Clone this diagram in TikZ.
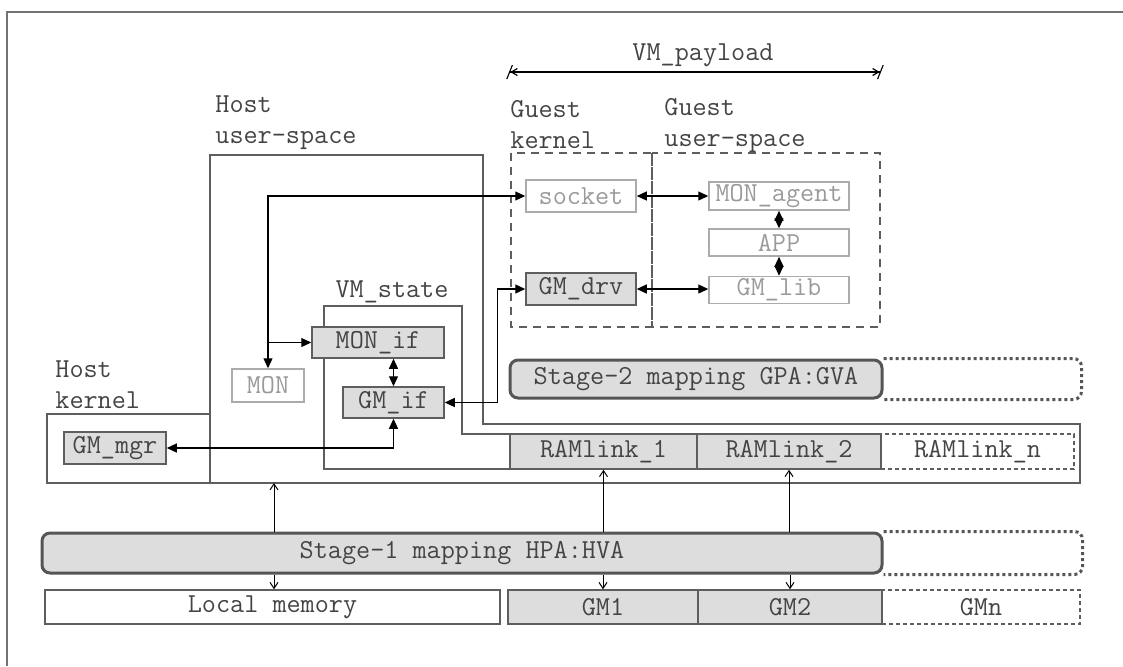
\documentclass[tikz,border=0pt]{standalone}
\usetikzlibrary{arrows.meta,calc}
\definecolor{boxline}{HTML}{5E5E5E}
\definecolor{boxfill}{HTML}{DDDDDD}
\definecolor{txtdark}{HTML}{444444}
\definecolor{txtlight}{HTML}{9A9A9A}
\definecolor{linelight}{HTML}{ABABAB}
\definecolor{stageline}{HTML}{555555}
\tikzset{
	lbl/.style={font=\ttfamily\fontsize{13.7}{15.5}\selectfont, text=txtdark, inner sep=0pt},
	darkbox/.style={lbl, draw=boxline, line width=0.75pt, fill=boxfill},
	lightbox/.style={lbl, draw=linelight, line width=0.75pt, text=txtlight},
	plainbox/.style={lbl, draw=boxline, line width=0.75pt},
	ghostbox/.style={lbl, draw=boxline, line width=0.6pt, dash pattern=on 2pt off 1.5pt},
	stagebox/.style={lbl, draw=stageline, line width=1.5pt, fill=boxfill, rounded corners=4pt},
	stageghost/.style={draw=stageline, line width=1.5pt, dash pattern=on 1.5pt off 1.5pt, rounded corners=4pt},
	region/.style={draw=boxline, line width=0.75pt},
	guestregion/.style={draw=boxline, line width=1pt, dash pattern=on 4pt off 3pt},
	conn/.style={draw=black, line width=0.6pt, {Triangle[length=5pt,width=4.5pt]}-{Triangle[length=5pt,width=4.5pt]}},
	oneway/.style={draw=black, line width=0.6pt, -{Triangle[length=5pt,width=4.5pt]}},
	thinconn/.style={draw=black, line width=0.5pt, -{Straight Barb[length=3pt,width=4pt]}},
	dimline/.style={draw=black, line width=0.6pt, {Bar[width=7pt,slant=0.4]Straight Barb[length=3pt,width=3.5pt]}-{Straight Barb[length=3pt,width=3.5pt]Bar[width=7pt,slant=0.4]}}
}
\begin{document}
\begin{tikzpicture}[x=0.5pt, y=-0.5pt]
	%%%%% START %%%%%
	\useasboundingbox (0,0) rectangle (1123,666);
	\draw[draw=black!55, line width=0.75pt] (7,666) -- (7,12) -- (1123,12);
	
	% regions
	\draw[region] (210,155) -- (483,155) -- (483,424) -- (1080,424) -- (1080,483) -- (210,483) -- cycle;
	\draw[region] (47,414) rectangle (210,483);
	\draw[region] (324,306) -- (462,306) -- (462,434) -- (510,434) -- (510,469) -- (324,469) -- cycle;
	\draw[guestregion] (511,153) rectangle (652,327);
	\draw[guestregion] (652,153) rectangle (880,327);
	
	\node[lbl, anchor=west, align=left] (hostusr) at (215,123) {Host\\user-space};
	\node[lbl, anchor=west, align=left] (hostker) at (55,385) {Host\\kernel};
	\node[lbl, anchor=west, align=left] (guestker) at (510,125) {Guest\\kernel};
	\node[lbl, anchor=west, align=left] (guestusr) at (664,125) {Guest\\user-space};
	\node[lbl] (vmstate) at (392,292) {VM\_state};
	\node[lbl] (payload) at (703,55) {VM\_payload};
	
	% guest side
	\node[lightbox, minimum width=55pt, minimum height=16pt] (socket) at (581,196) {socket};
	\node[darkbox, minimum width=55pt, minimum height=16pt] (gmdrv) at (581,289) {GM\_drv};
	\node[lightbox, minimum width=70pt, minimum height=14pt] (monagent) at (779,196) {MON\_agent};
	\node[lightbox, minimum width=70pt, minimum height=13.5pt] (app) at (779,242.5) {APP};
	\node[lightbox, minimum width=70pt, minimum height=13.5pt] (gmlib) at (779,290) {GM\_lib};
	
	% host side
	\node[darkbox, minimum width=66pt, minimum height=15.5pt] (monif) at (378,342.5) {MON\_if};
	\node[darkbox, minimum width=50.5pt, minimum height=15.5pt] (gmif) at (393.5,402.5) {GM\_if};
	\node[lightbox, minimum width=36pt, minimum height=16.5pt] (mon) at (268,385.5) {MON};
	\node[darkbox, minimum width=51pt, minimum height=16pt] (gmmgr) at (115,448) {GM\_mgr};
	
	\node[darkbox, minimum width=93.5pt, minimum height=17.5pt] (ramlinkA) at (603.5,451.5) {RAMlink\_1};
	\node[darkbox, minimum width=92pt, minimum height=17.5pt] (ramlinkB) at (789,451.5) {RAMlink\_2};
	\node[ghostbox, minimum width=96.5pt, minimum height=17.5pt] (ramlinkN) at (977.5,451.5) {RAMlink\_n};
	
	\node[stagebox, minimum width=186pt, minimum height=19pt] (stage2) at (696,379) {Stage-2 mapping GPA:GVA};
	\draw[stageghost] (stage2.north east) -- ++(198,0) |- (stage2.south east);
	\node[stagebox, minimum width=420pt, minimum height=20pt] (stage1) at (462,553) {Stage-1 mapping HPA:HVA};
	\draw[stageghost] (stage1.north east) -- ++(199,0) |- (stage1.south east);
	
	% memory
	\node[plainbox, minimum width=227.5pt, minimum height=17pt] (localmem) at (272.5,607) {Local memory};
	\node[darkbox, minimum width=95pt, minimum height=17pt] (gma) at (603,607) {GM1};
	\node[darkbox, minimum width=92pt, minimum height=17pt] (gmb) at (790,607) {GM2};
	\node[ghostbox, minimum width=99pt, minimum height=17pt] (gmnn) at (981,607) {GMn};
	
	% connectors
	\draw[dimline] (509,72) coordinate (payL) -- (881,72) coordinate (payR);
	\draw[conn] (socket) -- (monagent);
	\draw[conn] (gmdrv.east) -- (gmlib.west |- gmdrv.east);
	\draw[conn] (monagent) -- (app);
	\draw[conn] (app) -- (gmlib);
	\draw[conn] (mon.north) |- (socket.west);
	\draw[oneway] (mon.north |- monif.west) -- (monif.west);
	\draw[conn] (gmif.north) -- (gmif.north |- monif.south);
	\draw[conn] (gmif.east) -- ++(53,0) |- (gmdrv.west);
	\draw[conn] (gmmgr.east) -| (gmif.south);
	
	\coordinate (hostbot) at (274,483);
	\draw[thinconn] (stage1.north -| hostbot) -- (hostbot);
	\draw[thinconn] (stage1.south -| hostbot) -- (localmem.north -| hostbot);
	\draw[thinconn] (stage1.north -| ramlinkA) -- (ramlinkA.south);
	\draw[thinconn] (stage1.north -| ramlinkB) -- (ramlinkB.south);
	\draw[thinconn] (stage1.south -| gma) -- (gma.north);
	\draw[thinconn] (stage1.south -| gmb) -- (gmb.north);
	%%%%% END %%%%%
\end{tikzpicture}
\end{document}
